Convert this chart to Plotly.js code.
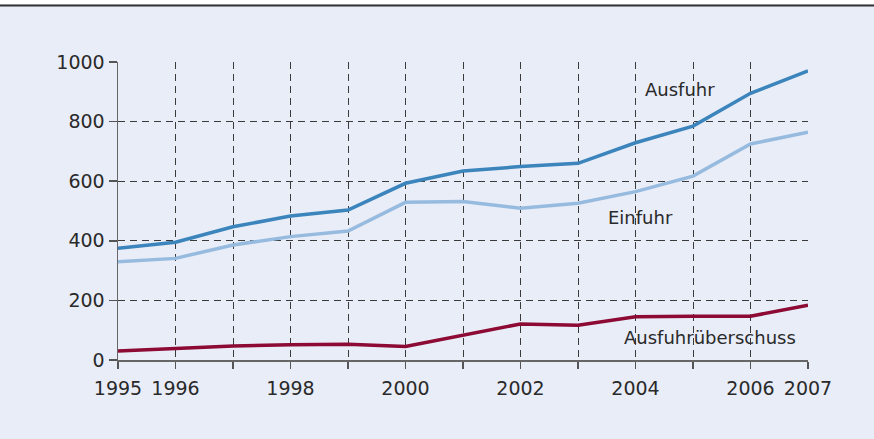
<!DOCTYPE html>
<html>
<head>
<meta charset="utf-8">
<script src="https://cdn.plot.ly/plotly-3.0.1.min.js"></script>
<style>html,body{margin:0;padding:0;background:#fff;}#chart{width:874px;height:439px;}</style>
</head>
<body>
<div id="chart"></div>
<script>
const years = [1995,1996,1997,1998,1999,2000,2001,2002,2003,2004,2005,2006,2007];
const ausfuhr = [375,395,447,483,503,593,634,649,660,729,785,895,970];
const einfuhr = [330,341,386,414,433,529,532,509,526,565,617,725,764];
const ueberschuss = [30,38,47,51,53,45,82,121,117,145,147,147,184];
const xTickLabels = ['1995','1996','','1998','','2000','','2002','','2004','','2006','2007'];
const yTicks = [0,200,400,600,800,1000];
const labels = {ausfuhr:'Ausfuhr', einfuhr:'Einfuhr', ueberschuss:'Ausfuhrüberschuss'};

const font = '"DejaVu Sans", sans-serif';
const traces = [
  {x: years, y: ueberschuss, mode:'lines', line:{color:'#8c0a34', width:3.5}, hoverinfo:'skip'},
  {x: years, y: einfuhr, mode:'lines', line:{color:'#97bbdf', width:3.5}, hoverinfo:'skip'},
  {x: years, y: ausfuhr, mode:'lines', line:{color:'#3b84bc', width:3.5}, hoverinfo:'skip'}
];
const layout = {
  width:874, height:439,
  margin:{l:118, r:66, t:62, b:79},
  paper_bgcolor:'#e9edf8', plot_bgcolor:'#e9edf8',
  showlegend:false,
  font:{family:font, size:19, color:'#2a2a2a'},
  xaxis:{range:[1995,2007], tickmode:'array', tickvals:years, ticktext:xTickLabels,
    showgrid:true, gridcolor:'#3a3a3a', gridwidth:1, griddash:'7px,5px',
    showline:true, linecolor:'#666', linewidth:1.5, ticks:'outside', ticklen:7, tickcolor:'#555', tickwidth:1.5,
    ticklabelstandoff:4, zeroline:false, fixedrange:true},
  yaxis:{range:[0,1000], tickmode:'array', tickvals:yTicks,
    showgrid:true, gridcolor:'#3a3a3a', gridwidth:1, griddash:'7px,5px',
    showline:true, linecolor:'#666', linewidth:1.5, ticks:'outside', ticklen:8, tickcolor:'#555', tickwidth:1.5,
    zeroline:false, fixedrange:true},
  annotations:[
    {x:2004.13, y:909, xref:'x', yref:'y', text:labels.ausfuhr, showarrow:false, xanchor:'left', font:{size:18, color:'#2a2a2a'}},
    {x:2003.48, y:477, xref:'x', yref:'y', text:labels.einfuhr, showarrow:false, xanchor:'left', font:{size:18, color:'#2a2a2a'}},
    {x:2005.29, y:77, xref:'x', yref:'y', text:labels.ueberschuss, showarrow:false, xanchor:'center', font:{size:18, color:'#2a2a2a'}}
  ],
  shapes:[
    {type:'rect', xref:'paper', yref:'paper', x0:-0.3, x1:1.2, y0:1.1946, y1:1.3, fillcolor:'#ffffff', line:{width:0}, layer:'above'},
    {type:'line', xref:'paper', yref:'paper', x0:-0.3, x1:1.2, y0:1.1896, y1:1.1896, line:{color:'#333', width:2}, layer:'above'}
  ]
};
Plotly.newPlot('chart', traces, layout, {displayModeBar:false, staticPlot:true});
</script>
</body>
</html>
